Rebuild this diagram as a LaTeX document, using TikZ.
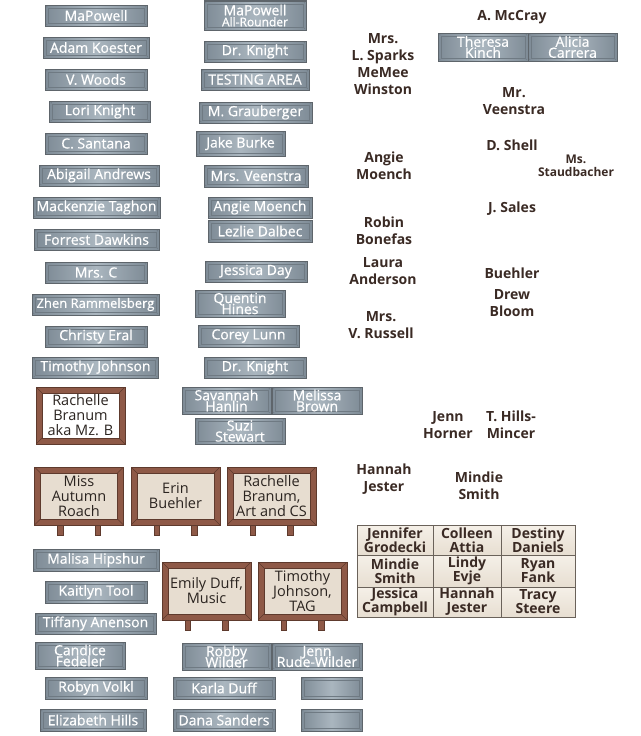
\documentclass[tikz,border=0pt]{standalone}
\usepackage{fontspec}
\setmainfont{Open Sans}
\newfontfamily\platefont[FakeBold=0.6]{Open Sans}
\lineskiplimit=-20pt
\definecolor{plateedge}{HTML}{7E8B96}
\definecolor{platemid}{HTML}{AAB6BF}
\definecolor{plateborder}{HTML}{5E656B}
\definecolor{plateinner}{HTML}{6F7A83}
\definecolor{labeltext}{HTML}{3A2A24}
\definecolor{signtext}{HTML}{2B2420}
\definecolor{signbrown}{HTML}{8E5947}
\definecolor{signdark}{HTML}{5E3A2D}
\definecolor{signbeige}{HTML}{E7DDD0}
\definecolor{tabletop}{HTML}{F5F0E8}
\definecolor{tablebot}{HTML}{E7DED1}
\definecolor{tableborder}{HTML}{6A625A}
\begin{document}
\begin{tikzpicture}[x=1pt,y=-1pt,
  plate/.style={draw=plateborder, line width=1pt, left color=plateedge, right color=plateedge, middle color=platemid,
    text=white, inner sep=0pt, align=center, font=\platefont\fontsize{14}{11}\selectfont, minimum height=21pt,
    path picture={
      \draw[plateinner, line width=0.6pt] ([shift={(3pt,3pt)}]path picture bounding box.south west) rectangle ([shift={(-3pt,-3pt)}]path picture bounding box.north east);
      \fill[plateinner] ([shift={(1.7pt,1.7pt)}]path picture bounding box.south west) circle (0.6pt);
      \fill[plateinner] ([shift={(-1.7pt,1.7pt)}]path picture bounding box.south east) circle (0.6pt);
      \fill[plateinner] ([shift={(1.7pt,-1.7pt)}]path picture bounding box.north west) circle (0.6pt);
      \fill[plateinner] ([shift={(-1.7pt,-1.7pt)}]path picture bounding box.north east) circle (0.6pt);
    }},
  lbl/.style={text=labeltext, inner sep=0pt, align=center, font=\fontsize{14}{17}\selectfont\bfseries},
  smalllbl/.style={text=labeltext, inner sep=0pt, align=center, font=\fontsize{12}{13.5}\selectfont\bfseries},
  sign/.style={draw=signdark, line width=0.8pt, fill=signbrown, minimum width=89pt, minimum height=58pt,
    inner sep=0pt, align=center, text=signtext, font=\fontsize{14.5}{15}\selectfont,
    path picture={
      \fill[#1, draw=signdark, line width=0.5pt] ([shift={(6pt,6pt)}]path picture bounding box.south west) rectangle ([shift={(-6pt,-6pt)}]path picture bounding box.north east);
      \draw[signdark, line width=0.4pt] (path picture bounding box.south west) -- ([shift={(6pt,6pt)}]path picture bounding box.south west);
      \draw[signdark, line width=0.4pt] (path picture bounding box.south east) -- ([shift={(-6pt,6pt)}]path picture bounding box.south east);
      \draw[signdark, line width=0.4pt] (path picture bounding box.north west) -- ([shift={(6pt,-6pt)}]path picture bounding box.north west);
      \draw[signdark, line width=0.4pt] (path picture bounding box.north east) -- ([shift={(-6pt,-6pt)}]path picture bounding box.north east);
    }},
  sign/.default=signbeige,
  leg/.style={fill=signbrown, draw=signdark, line width=0.5pt},
  cell/.style={draw=tableborder, line width=0.8pt, top color=tabletop, bottom color=tablebot, inner sep=0pt,
    align=center, text=labeltext, font=\fontsize{14}{14}\selectfont\bfseries}
]
\useasboundingbox (0,0) rectangle (640,736);

% ---- left column plates
\node[plate, minimum width=102pt] (p1) at (96,15.5) {MaPowell};
\node[plate, minimum width=106pt] (p2) at (96,47.5) {Adam Koester};
\node[plate, minimum width=102pt] (p3) at (96,79.5) {V. Woods};
\node[plate, minimum width=101pt] (p4) at (100,111.5) {Lori Knight};
\node[plate, minimum width=102pt] (p5) at (96,143.5) {C. Santana};
\node[plate, minimum width=120pt] (p6) at (99,175.5) {Abigail Andrews};
\node[plate, minimum width=127pt] (p7) at (96.5,207.5) {Mackenzie Taghon};
\node[plate, minimum width=125pt] (p8) at (96.5,239.5) {Forrest Dawkins};
\node[plate, minimum width=102pt] (p9) at (96,272.5) {Mrs. C};
\node[plate, minimum width=127pt, font=\platefont\fontsize{13}{11}\selectfont] (p10) at (95.5,304.5) {Zhen Rammelsberg};
\node[plate, minimum width=102pt] (p11) at (96,336.5) {Christy Eral};
\node[plate, minimum width=126pt] (p12) at (95.5,367.5) {Timothy Johnson};

% ---- second column plates
\node[plate, minimum width=102pt, minimum height=29pt] (q1) at (255,15.5) {MaPowell\\{\fontsize{12}{11}\selectfont All-Rounder}};
\node[plate, minimum width=102pt] (q2) at (255,51.5) {Dr. Knight};
\node[plate, minimum width=108pt] (q3) at (255,79.5) {TESTING AREA};
\node[plate, minimum width=113pt] (q4) at (255.5,112.5) {M. Grauberger};
\node[plate, minimum width=89pt, minimum height=25pt] (q5) at (240.5,143.5) {Jake Burke};
\node[plate, minimum width=104pt, minimum height=22pt] (q6) at (256,176) {Mrs. Veenstra};
\node[plate, minimum width=104pt] (q7) at (260,207.5) {Angie Moench};
\node[plate, minimum width=104pt, minimum height=22pt] (q8) at (260,231) {Lezlie Dalbec};
\node[plate, minimum width=102pt] (q9) at (256,271.5) {Jessica Day};
\node[plate, minimum width=90pt, minimum height=27pt] (q10) at (240,303.5) {Quentin\\Hines};
\node[plate, minimum width=101pt, minimum height=22pt] (q11) at (248.5,336) {Corey Lunn};
\node[plate, minimum width=102pt] (q12) at (255,367.5) {Dr. Knight};
\node[plate, minimum width=89pt, minimum height=27pt] (q13) at (226.5,400.5) {Savannah\\Hanlin};
\node[plate, minimum width=90pt, minimum height=27pt] (q14) at (317,400.5) {Melissa\\Brown};
\node[plate, minimum width=90pt, minimum height=26pt] (q15) at (240,431) {Suzi\\Stewart};

% ---- lower plates
\node[plate, minimum width=126pt, minimum height=22pt] (r1) at (96,560) {Malisa Hipshur};
\node[plate, minimum width=102pt, minimum height=22pt] (r2) at (96,592) {Kaitlyn Tool};
\node[plate, minimum width=121pt] (r3) at (95.5,623.5) {Tiffany Anenson};
\node[plate, minimum width=90pt, minimum height=27pt] (r4) at (80,655.5) {Candice\\Fedeler};
\node[plate, minimum width=102pt, minimum height=22pt] (r5) at (96,688) {Robyn Volkl};
\node[plate, minimum width=106pt, minimum height=22pt] (r6) at (93,720) {Elizabeth Hills};
\node[plate, minimum width=89pt, minimum height=27pt] (r7) at (226.5,656.5) {Robby\\Wilder};
\node[plate, minimum width=90pt, minimum height=27pt] (r8) at (317,656.5) {Jenn\\Rude-Wilder};
\node[plate, minimum width=102pt, minimum height=22pt] (r9) at (224,688) {Karla Duff};
\node[plate, minimum width=102pt, minimum height=22pt] (r10) at (224,720) {Dana Sanders};
\node[plate, minimum width=61pt, minimum height=22pt] (r11) at (331.5,688) {};
\node[plate, minimum width=61pt, minimum height=22pt] (r12) at (331.5,720) {};

% ---- top right plates
\node[plate, minimum width=90pt, minimum height=28pt] (t1) at (483,47) {Theresa\\Kinch};
\node[plate, minimum width=89pt, minimum height=28pt] (t2) at (572.5,47) {Alicia\\Carrera};

% ---- signs
\node[sign=white, minimum height=57pt] (s0) at (80.5,415.5) {Rachelle\\Branum\\aka Mz. B};
\foreach \s/\x/\y in {s1/79/496, s2/175.5/496, s3/271.5/496, s4/206.5/591, s5/302.5/591}{
  \draw[leg] ([shift={(-21.5,0)}]\x,\y+29) rectangle ([shift={(-16,10)}]\x,\y+29);
  \draw[leg] ([shift={(16,0)}]\x,\y+29) rectangle ([shift={(21.5,10)}]\x,\y+29);
}
\node[sign] (s1) at (79,496) {Miss\\Autumn\\Roach};
\node[sign] (s2) at (175.5,496) {Erin\\Buehler};
\node[sign] (s3) at (271.5,496) {Rachelle\\Branum,\\Art and CS};
\node[sign] (s4) at (206.5,591) {Emily Duff,\\Music};
\node[sign] (s5) at (302.5,591) {Timothy\\Johnson,\\TAG};

% ---- bold labels
\node[lbl] (l1) at (512,17) {A. McCray};
\node[lbl] (l2) at (383,64) {Mrs.\\L. Sparks\\MeMee\\Winston};
\node[lbl] (l3) at (514,101) {Mr.\\Veenstra};
\node[lbl] (l4) at (512,145) {D. Shell};
\node[lbl] (l5) at (384,166) {Angie\\Moench};
\node[smalllbl] (l6) at (576,166) {Ms.\\Staudbacher};
\node[lbl] (l7) at (512,209) {J. Sales};
\node[lbl] (l8) at (384,231) {Robin\\Bonefas};
\node[lbl] (l9) at (383,271.5) {Laura\\Anderson};
\node[lbl] (l10) at (512,273) {Buehler};
\node[lbl] (l11) at (512,303.5) {Drew\\Bloom};
\node[lbl] (l12) at (381,325) {Mrs.\\V. Russell};
\node[lbl] (l13) at (448,425) {Jenn\\Horner};
\node[lbl] (l14) at (511,425) {T. Hills-\\Mincer};
\node[lbl] (l15) at (384,479.5) {Hannah\\Jester};
\node[lbl] (l16) at (479,485.5) {Mindie\\Smith};

% ---- table
\node[cell, minimum width=76pt, minimum height=30pt] (c11) at (395,540) {Jennifer\\Grodecki};
\node[cell, minimum width=68pt, minimum height=30pt] (c12) at (467,540) {Colleen\\Attia};
\node[cell, minimum width=74pt, minimum height=30pt] (c13) at (538,540) {Destiny\\Daniels};
\node[cell, minimum width=76pt, minimum height=32pt] (c21) at (395,571) {Mindie\\Smith};
\node[cell, minimum width=68pt, minimum height=32pt] (c22) at (467,571) {Lindy\\Evje};
\node[cell, minimum width=74pt, minimum height=32pt] (c23) at (538,571) {Ryan\\Fank};
\node[cell, minimum width=76pt, minimum height=30pt] (c31) at (395,602) {Jessica\\Campbell};
\node[cell, minimum width=68pt, minimum height=30pt] (c32) at (467,602) {Hannah\\Jester};
\node[cell, minimum width=74pt, minimum height=30pt] (c33) at (538,602) {Tracy\\Steere};
\end{tikzpicture}
\end{document}
